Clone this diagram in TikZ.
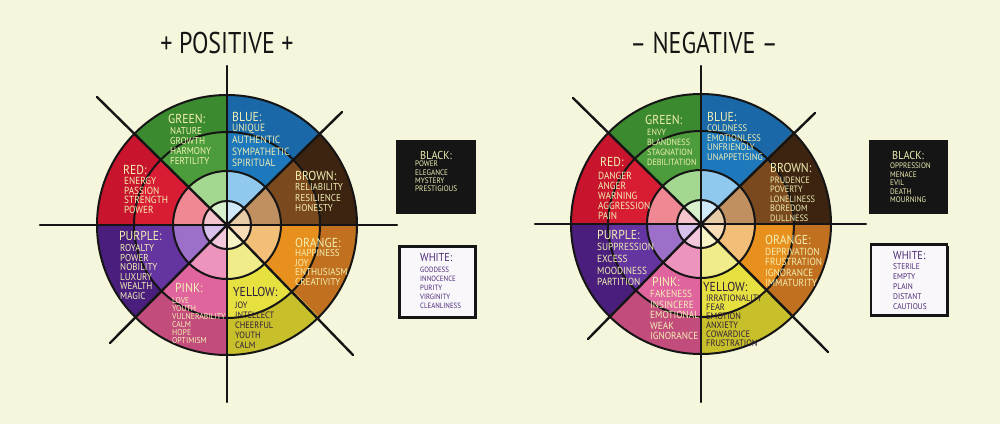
\documentclass[tikz,border=0pt]{standalone}
\usepackage{fontspec}
\setmainfont{PT Sans}
\newfontfamily\handfont[FakeStretch=0.9]{PT Sans}
\newfontfamily\titlefont[FakeStretch=0.8]{PT Sans}
\definecolor{bg}{RGB}{245,246,220}
\definecolor{ink}{HTML}{151515}
\definecolor{txt}{HTML}{F2F0B4}
\definecolor{dtxt}{HTML}{2C1C3C}
\definecolor{wtxt}{HTML}{4A2A78}
\definecolor{boxwhite}{HTML}{FAF7FB}
% sector colours: O outer, M middle, I inner, C centre
\definecolor{orO}{HTML}{C0701E}\definecolor{orM}{HTML}{E8901E}\definecolor{orI}{HTML}{F2BE78}\definecolor{orC}{HTML}{F8DCB8}
\definecolor{yeO}{HTML}{C8C02A}\definecolor{yeM}{HTML}{E6E040}\definecolor{yeI}{HTML}{F0EC8A}\definecolor{yeC}{HTML}{F8F4C8}
\definecolor{pkO}{HTML}{C24C7C}\definecolor{pkM}{HTML}{E0649E}\definecolor{pkI}{HTML}{EC94BC}\definecolor{pkC}{HTML}{F4C8DC}
\definecolor{puO}{HTML}{4A1E7C}\definecolor{puM}{HTML}{6434A0}\definecolor{puI}{HTML}{9C70C8}\definecolor{puC}{HTML}{D8C0EC}
\definecolor{reO}{HTML}{C8142C}\definecolor{reM}{HTML}{D81C34}\definecolor{reI}{HTML}{F08894}\definecolor{reC}{HTML}{F6C4CC}
\definecolor{grO}{HTML}{3C8A30}\definecolor{grM}{HTML}{4C9C3C}\definecolor{grI}{HTML}{A4D890}\definecolor{grC}{HTML}{D8F0CC}
\definecolor{blO}{HTML}{1A68A8}\definecolor{blM}{HTML}{1E78BC}\definecolor{blI}{HTML}{90C8EE}\definecolor{blC}{HTML}{D0E8F8}
\definecolor{brO}{HTML}{3C2410}\definecolor{brM}{HTML}{7A4A1E}\definecolor{brI}{HTML}{C09060}\definecolor{brC}{HTML}{E8CCA8}

\def\hsz{13}
\def\isz{10}
\newcommand\catlist[9]{% name, hx, hy, ix, iy0, step, color, heading, items
  \node[hd,text=#7] (#1) at (#2,#3) {#8};
  \foreach \t [count=\i from 0] in {#9} {\node[it,text=#7] (#1-\i) at (#4,{#5+\i*#6}) {\t};}
}

\begin{document}
\begin{tikzpicture}[x=1pt,y=-1pt,
  ring/.style={draw=ink,line width=2pt},
  spoke/.style={draw=ink,line width=2.4pt,line cap=round},
  hd/.style={anchor=west,inner sep=0pt,font=\handfont\fontsize{\hsz}{\hsz}\selectfont},
  it/.style={anchor=west,inner sep=0pt,font=\handfont\fontsize{\isz}{\isz}\selectfont},
  title/.style={inner sep=0pt,text=ink,font=\titlefont\fontsize{30}{30}\selectfont},
  blackbox/.style={fill=ink,draw=ink,line width=1.5pt,minimum width=78pt,minimum height=72pt,inner sep=0pt},
  whitebox/.style={fill=boxwhite,draw=ink,line width=2.2pt,minimum width=76pt,minimum height=71pt,inner sep=0pt},
  shadow/.style={fill=ink,minimum width=76pt,minimum height=71pt,inner sep=0pt}]
\fill[bg] (0,0) rectangle (1000,424);
\useasboundingbox (0,0) rectangle (1000,424);

% titles
\node[title] (tpos) at (227,43) {+ POSITIVE +};
\node[title] (tneg) at (704,43) {– NEGATIVE –};

% wheel centres
\coordinate (L) at (227,225);
\coordinate (R) at (701,224);

\foreach \c in {L,R} {
  \foreach \a/\o/\m/\n/\z in {0/orO/orM/orI/orC,45/yeO/yeM/yeI/yeC,90/pkO/pkM/pkI/pkC,135/puO/puM/puI/puC,180/reO/reM/reI/reC,225/grO/grM/grI/grC,270/blO/blM/blI/blC,315/brO/brM/brI/brC} {
    \fill[fill=\o] (\c) -- ++(\a:130) arc[start angle=\a, delta angle=45, radius=130] -- cycle;
    \fill[fill=\m] (\c) -- ++(\a:93) arc[start angle=\a, delta angle=45, radius=93] -- cycle;
    \fill[fill=\n] (\c) -- ++(\a:54) arc[start angle=\a, delta angle=45, radius=54] -- cycle;
    \fill[fill=\z] (\c) -- ++(\a:24) arc[start angle=\a, delta angle=45, radius=24] -- cycle;
  }
  \draw[ring] (\c) circle[radius=130];
  \draw[ring] (\c) circle[radius=93];
  \draw[ring] (\c) circle[radius=54];
  \draw[ring] (\c) circle[radius=24];
}

% spoke ends, left wheel
\coordinate (Ln) at (227,66);  \coordinate (Ls) at (227,402);
\coordinate (Lw) at (40,225);  \coordinate (Le) at (397,225);
\coordinate (Lnw) at (97,97);  \coordinate (Lse) at (353,355);
\coordinate (Lne) at (342,112); \coordinate (Lsw) at (110,343);
% spoke ends, right wheel
\coordinate (Rn) at (701,66);  \coordinate (Rs) at (701,402);
\coordinate (Rw) at (535,224); \coordinate (Re) at (866,224);
\coordinate (Rnw) at (573,98); \coordinate (Rse) at (828,352);
\coordinate (Rne) at (815,113); \coordinate (Rsw) at (588,339);
\foreach \c in {L,R} {
  \foreach \d in {n,s,w,e,nw,se,ne,sw} {\draw[spoke] (\c) -- (\c\d);}
}

% boxes
\node[shadow] (lbs) at (438.5,283.5) {};
\node[blackbox] (lb) at (436,177) {};
\node[whitebox] (lw) at (437.5,282) {};
\node[shadow] (rbs) at (910.5,281.5) {};
\node[blackbox] (rb) at (908.5,177) {};
\node[whitebox] (rw) at (909,280) {};

% ---------- positive texts
\def\isz{10}\catlist{pgr}{168}{119}{170}{131}{10}{txt}{GREEN:}{NATURE,GROWTH,HARMONY,FERTILITY}
\def\isz{10.3}\catlist{pre}{123}{170}{124}{181}{9.6}{txt}{RED:}{ENERGY,PASSION,STRENGTH,POWER}
\def\isz{10.5}\catlist{pbl}{232}{117}{232}{129}{11.3}{txt}{BLUE:}{UNIQUE,AUTHENTIC,SYMPATHETIC,SPIRITUAL}
\def\isz{10}\catlist{pbr}{295}{176}{295}{187}{10.5}{txt}{BROWN:}{RELIABILITY,RESILIENCE,HONESTY}
\def\isz{10}\catlist{ppu}{119}{236}{120}{248}{9.6}{txt}{PURPLE:}{ROYALTY,POWER,NOBILITY,LUXURY,WEALTH,MAGIC}
\def\isz{8.6}\catlist{ppk}{175}{288}{172}{300}{8.1}{txt}{PINK:}{LOVE,YOUTH,VULNERABILITY,CALM,HOPE,OPTIMISM}
\def\isz{10}\catlist{por}{295}{243}{295}{253}{9.7}{txt}{ORANGE:}{HAPPINESS,JOY,ENTHUSIASM,CREATIVITY}
\def\isz{9.2}\catlist{pye}{233}{292}{235}{305}{10}{dtxt}{YELLOW:}{JOY,INTELLECT,CHEERFUL,YOUTH,CALM}

% ---------- negative texts
\def\isz{9}\catlist{ngr}{645}{120}{647}{132}{10}{txt}{GREEN:}{ENVY,BLANDNESS,STAGNATION,DEBILITATION}
\def\isz{10.3}\catlist{nre}{600}{162}{598}{176}{10}{txt}{RED:}{DANGER,ANGER,WARNING,AGGRESSION,PAIN}
\def\isz{9.5}\catlist{nbl}{707}{117}{707}{128}{9.7}{txt}{BLUE:}{COLDNESS,EMOTIONLESS,UNFRIENDLY,UNAPPETISING}
\def\isz{9.2}\catlist{nbr}{770}{168}{770}{180}{9.5}{txt}{BROWN:}{PRUDENCE,POVERTY,LONELINESS,BOREDOM,DULLNESS}
\def\isz{10.3}\catlist{npu}{597}{235}{597}{247}{11.7}{txt}{PURPLE:}{SUPPRESSION,EXCESS,MOODINESS,PARTITION}
\def\isz{10.3}\catlist{npk}{652}{282}{650}{294}{10.5}{txt}{PINK:}{FAKENESS,INSINCERE,EMOTIONAL,WEAK,IGNORANCE}
\def\isz{10.3}\catlist{nor}{765}{240}{765}{252}{10.3}{txt}{ORANGE:}{DEPRIVATION,FRUSTRATION,IGNORANCE,IMMATURITY}
\def\isz{9.3}\catlist{nye}{703}{287}{706}{298}{9}{dtxt}{YELLOW:}{IRRATIONALITY,FEAR,EMOTION,ANXIETY,COWARDICE,FRUSTRATION}

% ---------- box texts
\def\hsz{11.5}
\def\isz{8}\catlist{pbk}{420}{155}{415}{164}{8.3}{txt}{BLACK:}{POWER,ELEGANCE,MYSTERY,PRESTIGIOUS}
\def\isz{7.6}\catlist{pwh}{420}{258}{420}{270}{9}{wtxt}{WHITE:}{GODDESS,INNOCENCE,PURITY,VIRGINITY,CLEANLINESS}
\def\isz{8}\catlist{nbk}{892}{155}{890}{166}{8.5}{txt}{BLACK:}{OPPRESSION,MENACE,EVIL,DEATH,MOURNING}
\def\isz{8.3}\catlist{nwh}{893}{256}{893}{267}{9.8}{wtxt}{WHITE:}{STERILE,EMPTY,PLAIN,DISTANT,CAUTIOUS}
\end{tikzpicture}
\end{document}
